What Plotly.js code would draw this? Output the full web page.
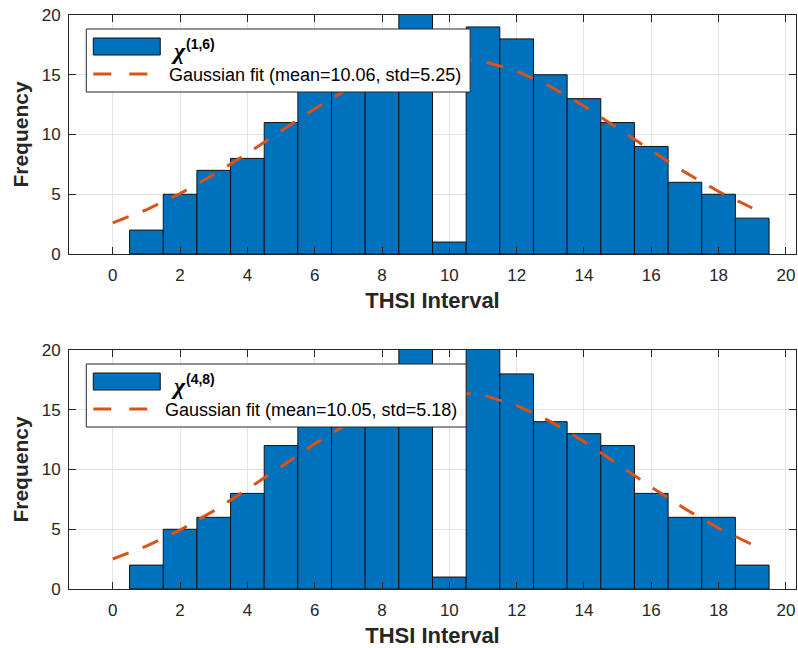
<!DOCTYPE html>
<html><head><meta charset="utf-8">
<script src="https://cdn.plot.ly/plotly-3.0.1.min.js"></script>
<style>html,body{margin:0;padding:0;background:#fff}</style>
</head><body><div id="chart" style="width:798px;height:648px"></div>
<script>
// ---- data ----
const binCenters = [1,2,3,4,5,6,7,8,9,10,11,12,13,14,15,16,17,18,19];
const countsTop = [2,5,7,8,11,15,16,18,22,1,19,18,15,13,11,9,6,5,3];
const countsBottom = [2,5,6,8,12,15,17,17,22,1,21,18,14,13,12,8,6,6,2];
const fitX = [0,1,2,3,4,5,6,7,8,9,10,11,12,13,14,15,16,17,18,19];
const fitTop = [2.61,3.70,5.05,6.64,8.42,10.31,12.16,13.84,15.18,16.07,16.40,16.14,15.32,14.02,12.38,10.53,8.65,6.85,5.23,3.85];
const fitBottom = [2.51,3.59,4.93,6.54,8.34,10.26,12.15,13.87,15.26,16.17,16.50,16.22,15.37,14.03,12.34,10.45,8.53,6.71,5.08,3.71];
const seriesTop = {sub: '(1,6)', fit: 'Gaussian fit (mean=10.06, std=5.25)'};
const seriesBottom = {sub: '(4,8)', fit: 'Gaussian fit (mean=10.05, std=5.18)'};
const xTicks = [0,2,4,6,8,10,12,14,16,18,20];
const yTicks = [0,5,10,15,20];
const xTitle = 'THSI Interval';
const yTitle = 'Frequency';

// ---- styling ----
const BLUE = '#0072BD', ORANGE = '#D95319', AX = '#262626', GRID = '#e4e4e4';
const FONT = 'Liberation Sans, Arial, sans-serif';
const L = 68.7, R = 796, T = 15, B = 589;
const px = x => (x - L) / (R - L);
const py = y => (B - y) / (B - T);
const topDomain = [py(254), 1];
const botDomain = [0, py(350)];

function barTrace(y, xa, ya){
  return {type:'bar', x:binCenters, y:y, width:1, xaxis:xa, yaxis:ya,
    marker:{color:BLUE, line:{color:'#111', width:1}}, showlegend:false, hoverinfo:'skip'};
}
function fitTrace(y, xa, ya){
  return {type:'scatter', mode:'lines', x:fitX, y:y, xaxis:xa, yaxis:ya,
    line:{color:ORANGE, width:3, dash:'17px,15px'}, showlegend:false, hoverinfo:'skip'};
}
function xAxis(anchor){
  return {anchor:anchor, domain:[0,1], range:[-1.3,20.3], tickvals:xTicks,
    ticks:'inside', ticklen:7, tickcolor:AX, tickwidth:1,
    showline:true, mirror:'ticks', linecolor:AX, linewidth:1,
    showgrid:true, gridcolor:GRID, gridwidth:1, zeroline:false,
    tickfont:{family:FONT, size:17, color:AX}, ticklabelstandoff:6,
    title:{text:xTitle, font:{family:FONT, size:22, color:AX, weight:'bold'}, standoff:8}};
}
function yAxis(anchor, dom){
  return {anchor:anchor, domain:dom, range:[0,20], tickvals:yTicks,
    ticks:'inside', ticklen:7, tickcolor:AX, tickwidth:1,
    showline:true, mirror:'ticks', linecolor:AX, linewidth:1,
    showgrid:true, gridcolor:GRID, gridwidth:1, zeroline:false,
    tickfont:{family:FONT, size:17, color:AX}, ticklabelstandoff:4,
    title:{text:yTitle, font:{family:FONT, size:21, color:AX, weight:'bold'}, standoff:7}};
}

const shapes = [], annotations = [];
function addLegend(dy, right, textLeft, series){
  shapes.push({type:'rect', xref:'paper', yref:'paper', x0:px(86), x1:px(right), y0:py(92+dy), y1:py(29+dy),
    fillcolor:'#fff', line:{color:AX, width:1}, layer:'above'});
  shapes.push({type:'rect', xref:'paper', yref:'paper', x0:px(93), x1:px(160), y0:py(55+dy), y1:py(38+dy),
    fillcolor:BLUE, line:{color:'#111', width:1}, layer:'above'});
  shapes.push({type:'line', xref:'paper', yref:'paper', x0:px(93), x1:px(148), y0:py(74+dy), y1:py(74+dy),
    line:{color:ORANGE, width:3, dash:'18px,18px'}, layer:'above'});
  annotations.push({xref:'paper', yref:'paper', x:px(169), y:py(51+dy), xanchor:'left', yanchor:'middle',
    text:'<b><i>χ</i></b>', showarrow:false, font:{family:'Liberation Serif, serif', size:24, color:'#000'}});
  annotations.push({xref:'paper', yref:'paper', x:px(184), y:py(44+dy), xanchor:'left', yanchor:'middle',
    text:'<b>'+series.sub+'</b>', showarrow:false, font:{family:FONT, size:14, color:'#000'}});
  annotations.push({xref:'paper', yref:'paper', x:px(textLeft), y:py(75.5+dy), xanchor:'left', yanchor:'middle',
    text:series.fit, showarrow:false, font:{family:FONT, size:18, color:'#000'}});
}
addLegend(0, 470, 167, seriesTop);
addLegend(335, 466, 163, seriesBottom);

const data = [barTrace(countsTop,'x','y'), fitTrace(fitTop,'x','y'),
              barTrace(countsBottom,'x2','y2'), fitTrace(fitBottom,'x2','y2')];
const layout = {
  width:798, height:648, margin:{l:L, r:798-R, t:T, b:648-B, pad:0},
  paper_bgcolor:'#fff', plot_bgcolor:'#fff', barmode:'overlay', bargap:0,
  showlegend:false, hovermode:false,
  xaxis:xAxis('y'), yaxis:yAxis('x', topDomain),
  xaxis2:xAxis('y2'), yaxis2:yAxis('x2', botDomain),
  shapes:shapes, annotations:annotations
};
Plotly.newPlot('chart', data, layout, {displayModeBar:false, staticPlot:true});
</script></body></html>
